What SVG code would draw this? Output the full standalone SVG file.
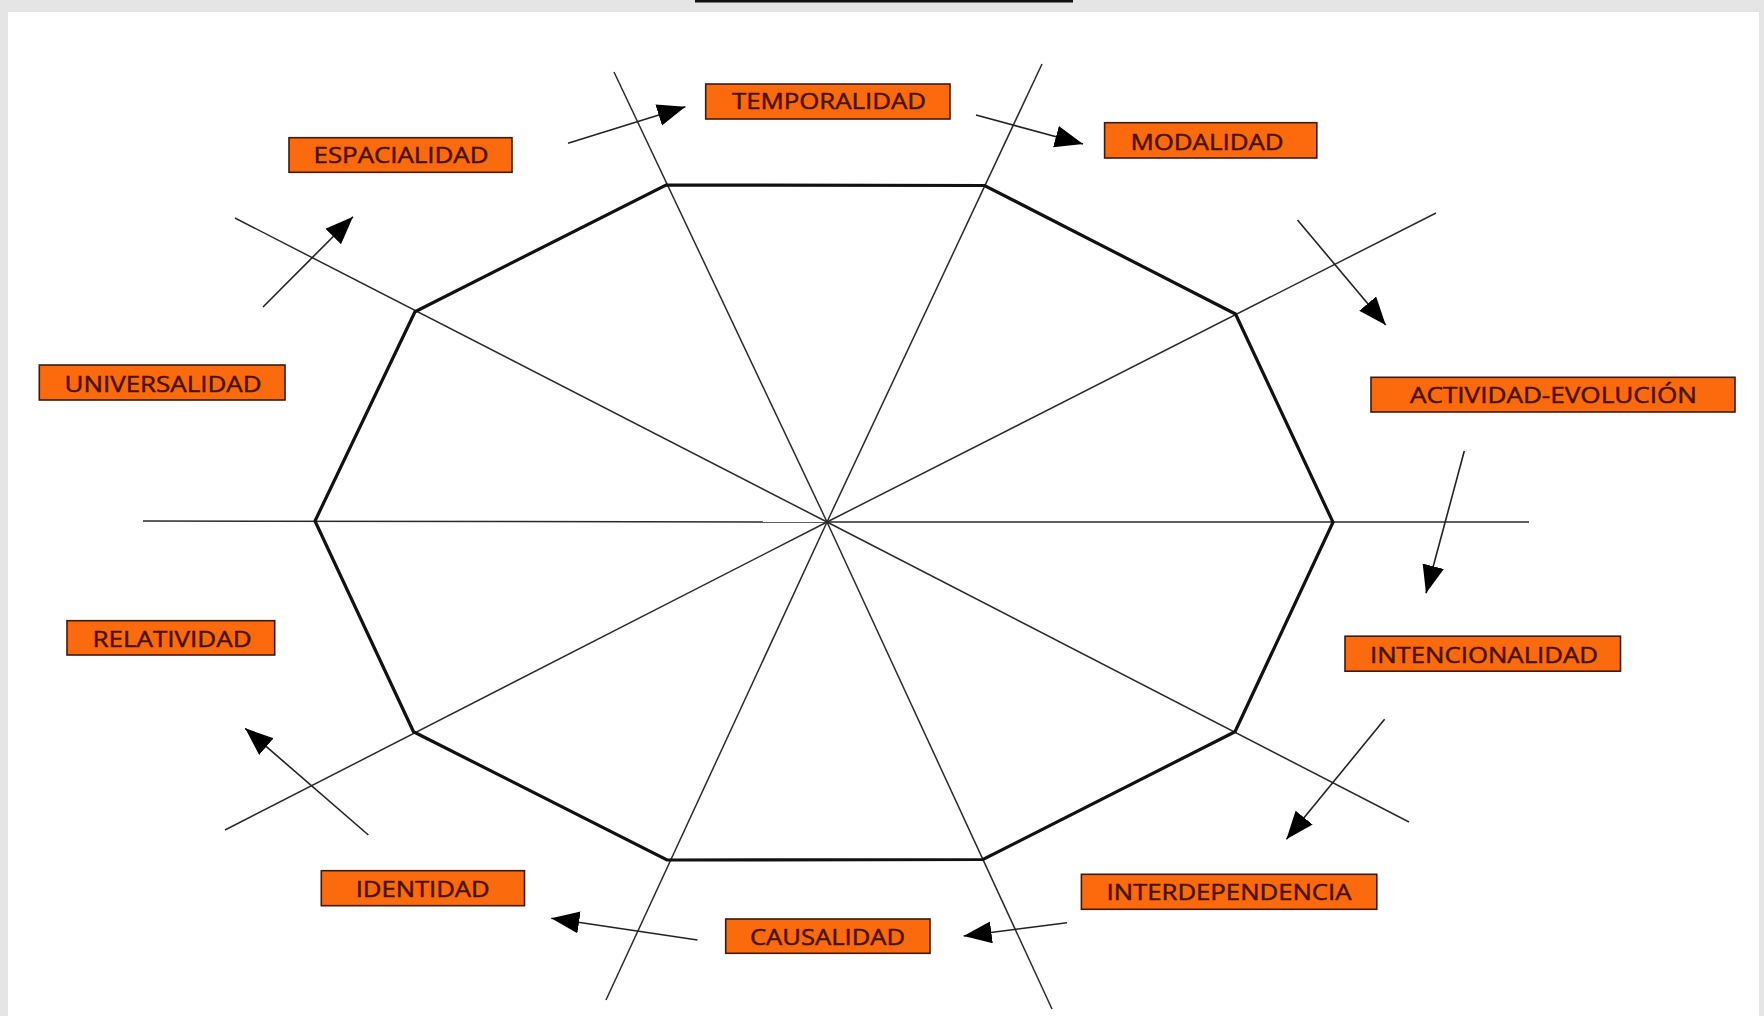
<svg xmlns="http://www.w3.org/2000/svg" width="1764" height="1016" viewBox="0 0 1764 1016">
<style>
.box{fill:#fb6a0c;stroke:#3d1a10;stroke-width:1.6}
.lbl{font-family:"Open Sans","Liberation Sans",sans-serif;font-size:22px;fill:#4a1204;stroke:#4a1204;stroke-width:0.5;text-anchor:middle}
.spoke{stroke:#2a2a2a;stroke-width:1.5;fill:none}
.poly{stroke:#111;stroke-width:3.2;fill:none;stroke-linejoin:miter}
.arr{stroke:#222;stroke-width:1.6;fill:none;marker-end:url(#ah)}
</style>
<defs>
<marker id="ah" markerUnits="userSpaceOnUse" markerWidth="30" markerHeight="24" refX="28" refY="11" orient="auto">
<path d="M0,0 L28,11 L0,22 Z" fill="#000"/>
</marker>
</defs>
<rect x="0" y="0" width="1764" height="1016" fill="#e5e5e5"/>
<rect x="8" y="12" width="1751" height="1004" fill="#ffffff"/>
<rect x="695" y="0" width="378" height="2.5" fill="#111"/>
<g id="wheel">
<g id="spokes">
<line class="spoke" x1="614" y1="72" x2="827" y2="522"/>
<line class="spoke" x1="1042" y1="64" x2="827" y2="522"/>
<line class="spoke" x1="1436" y1="213" x2="827" y2="522"/>
<line class="spoke" x1="1529" y1="522" x2="827" y2="522"/>
<line class="spoke" x1="1409" y1="822" x2="827" y2="522"/>
<line class="spoke" x1="1052" y1="1009" x2="827" y2="522"/>
<line class="spoke" x1="606" y1="1000" x2="827" y2="522"/>
<line class="spoke" x1="225" y1="830" x2="827" y2="522"/>
<line class="spoke" x1="143" y1="521" x2="827" y2="522"/>
<line class="spoke" x1="235" y1="218" x2="827" y2="522"/>
</g>
<polygon class="poly" points="666,185 984.5,185.5 1235.5,314 1333,522.3 1235,731.7 983,859.5 667,860 413.5,731.7 315,521 415,311.7"/>
</g>
<g id="connectors">
<line class="arr" x1="263" y1="307" x2="353" y2="216.7"/>
<line class="arr" x1="568" y1="143.3" x2="685.4" y2="106.7"/>
<line class="arr" x1="976" y1="115" x2="1083" y2="144"/>
<line class="arr" x1="1297.5" y1="220" x2="1385.7" y2="325"/>
<line class="arr" x1="1464.3" y1="451" x2="1426" y2="593.3"/>
<line class="arr" x1="1384.6" y1="719.3" x2="1286.4" y2="839.3"/>
<line class="arr" x1="1067" y1="922.7" x2="963.6" y2="936"/>
<line class="arr" x1="697.5" y1="940" x2="551.3" y2="918.3"/>
<line class="arr" x1="368.4" y1="835" x2="245.2" y2="728.3"/>
</g>
<g id="temporalidad"><rect class="box" x="705.7" y="84" width="244.3" height="35"/><text class="lbl" x="829" y="109.3" textLength="194" lengthAdjust="spacingAndGlyphs">TEMPORALIDAD</text></g>
<g id="modalidad"><rect class="box" x="1104.6" y="122.7" width="212.2" height="35.3"/><text class="lbl" x="1207" y="149.8" textLength="153" lengthAdjust="spacingAndGlyphs">MODALIDAD</text></g>
<g id="espacialidad"><rect class="box" x="289" y="137.7" width="223" height="34.6"/><text class="lbl" x="401" y="163" textLength="175" lengthAdjust="spacingAndGlyphs">ESPACIALIDAD</text></g>
<g id="universalidad"><rect class="box" x="39.3" y="365" width="245.7" height="35"/><text class="lbl" x="163" y="391.5" textLength="197" lengthAdjust="spacingAndGlyphs">UNIVERSALIDAD</text></g>
<g id="actividad-evolucion"><rect class="box" x="1371" y="377.3" width="364" height="34.7"/><text class="lbl" x="1553.5" y="403" textLength="287" lengthAdjust="spacingAndGlyphs">ACTIVIDAD-EVOLUCIÓN</text></g>
<g id="relatividad"><rect class="box" x="67" y="620.7" width="207.7" height="34.3"/><text class="lbl" x="172" y="646.5" textLength="159" lengthAdjust="spacingAndGlyphs">RELATIVIDAD</text></g>
<g id="intencionalidad"><rect class="box" x="1345" y="636.2" width="275.5" height="35"/><text class="lbl" x="1484" y="662.5" textLength="228" lengthAdjust="spacingAndGlyphs">INTENCIONALIDAD</text></g>
<g id="identidad"><rect class="box" x="321.3" y="870.7" width="203.2" height="35"/><text class="lbl" x="422.7" y="897" textLength="134" lengthAdjust="spacingAndGlyphs">IDENTIDAD</text></g>
<g id="interdependencia"><rect class="box" x="1081.4" y="874.3" width="295.4" height="35"/><text class="lbl" x="1229" y="900" textLength="245" lengthAdjust="spacingAndGlyphs">INTERDEPENDENCIA</text></g>
<g id="causalidad"><rect class="box" x="725.7" y="919" width="204.3" height="34.3"/><text class="lbl" x="827.5" y="945" textLength="155" lengthAdjust="spacingAndGlyphs">CAUSALIDAD</text></g>
</svg>
